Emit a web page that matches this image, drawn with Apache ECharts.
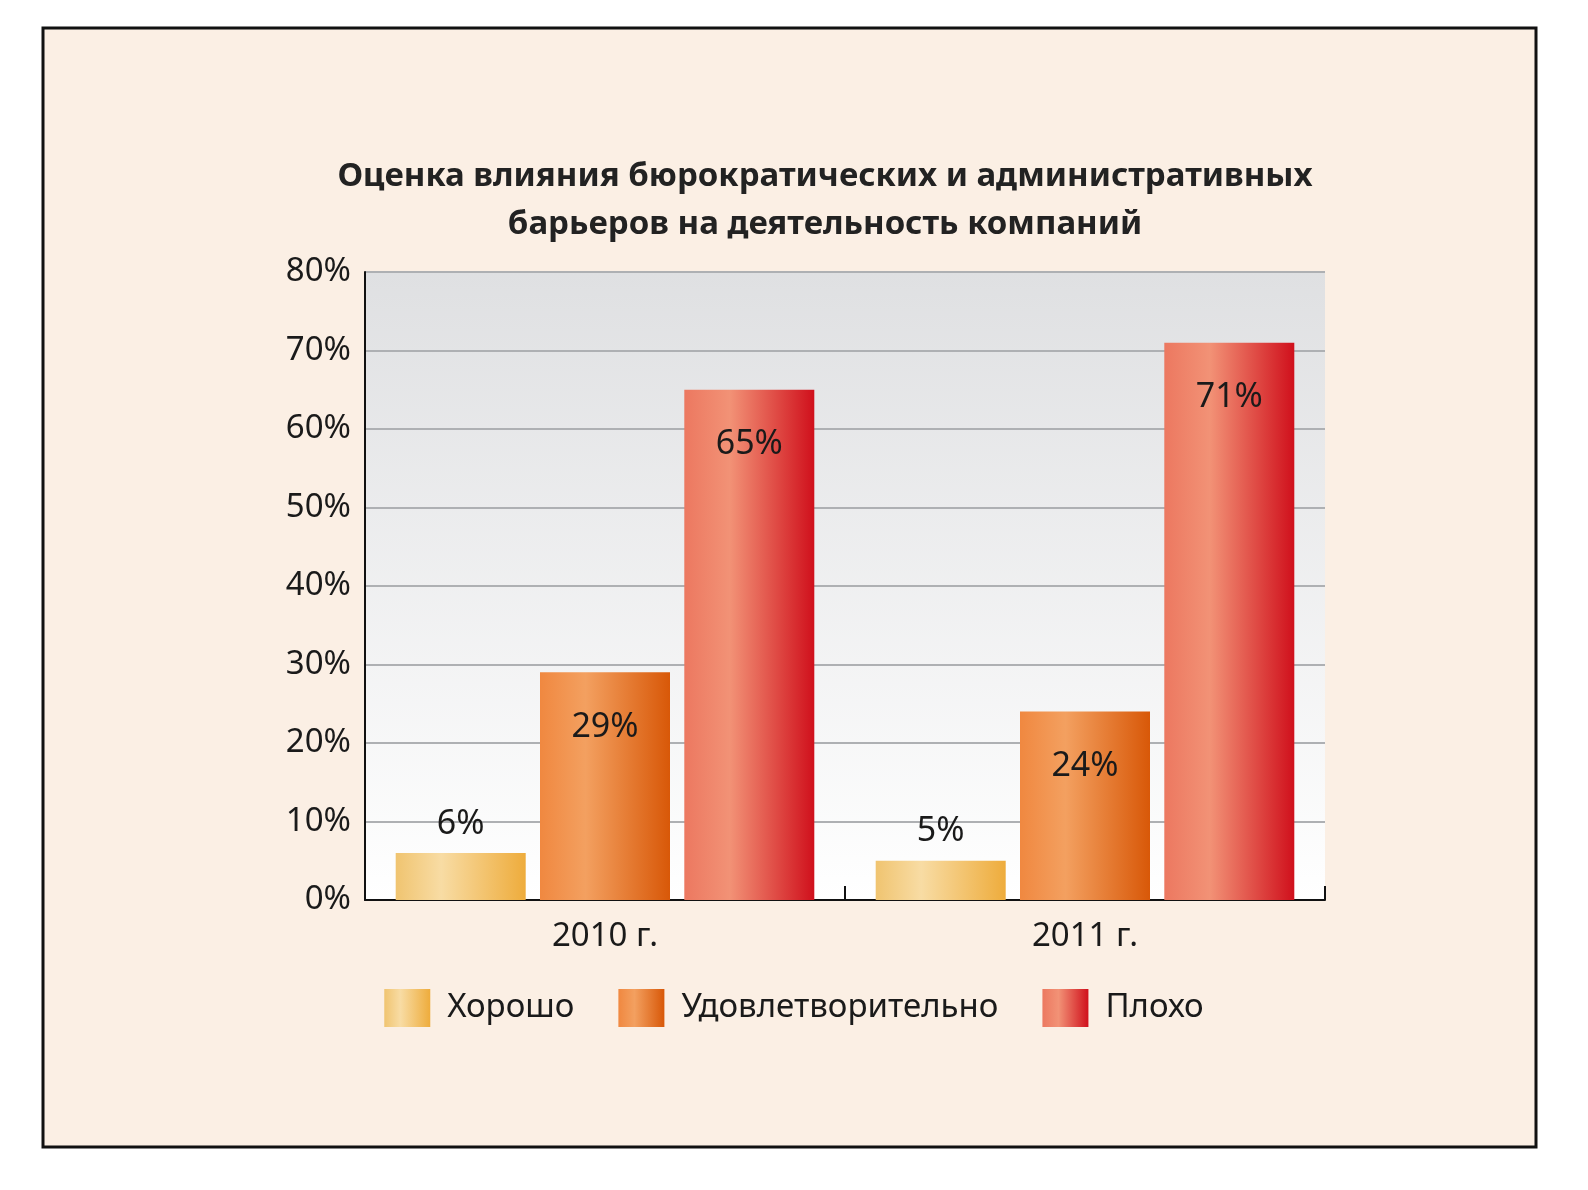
<!DOCTYPE html>
<html>
<head>
<meta charset="utf-8">
<script src="https://cdn.jsdelivr.net/npm/echarts@6/dist/echarts.min.js"></script>
<style>html,body{margin:0;background:#fff}#main{width:1588px;height:1190px}</style>
</head>
<body>
<div id="main"></div>
<script>
var chart = echarts.init(document.getElementById('main'));

var categories = ['2010 г.', '2011 г.'];
var good = [6, 5];
var fair = [29, 24];
var bad = [65, 71];
var yTicks = [0, 10, 20, 30, 40, 50, 60, 70, 80];

function grad(a, b, c) {
    return new echarts.graphic.LinearGradient(0, 0, 1, 0, [
        { offset: 0, color: a }, { offset: 0.35, color: b }, { offset: 1, color: c }
    ]);
}

var font = 'Noto Sans';

function bar(name, data, color, pos) {
    return {
        name: name,
        type: 'bar',
        data: data,
        barWidth: 130,
        barGap: '11%',
        itemStyle: { color: color },
        label: {
            show: true,
            position: pos,
            distance: pos === 'top' ? 12 : 38,
            formatter: '{c}%',
            fontFamily: font,
            fontSize: 34,
            color: '#1a1a1a'
        }
    };
}

option = {
    graphic: [{
        type: 'rect',
        z: -10,
        shape: { x: 43, y: 28, width: 1493, height: 1119 },
        style: { fill: '#fbefe4', stroke: '#111', lineWidth: 3 }
    }],
    title: {
        text: 'Оценка влияния бюрократических и административных\nбарьеров на деятельность компаний',
        left: 820,
        textAlign: 'center',
        top: 148,
        textStyle: { fontFamily: font, fontSize: 33, fontWeight: 'bold', color: '#222', lineHeight: 48 }
    },
    legend: {
        top: 984,
        left: 'center',
        icon: 'rect',
        itemWidth: 46,
        itemHeight: 38,
        itemGap: 44,
        textStyle: { fontFamily: font, fontSize: 33, color: '#1a1a1a', padding: [0, 0, 0, 12] },
        data: ['Хорошо', 'Удовлетворительно', 'Плохо']
    },
    grid: {
        left: 365, right: 263, top: 272, bottom: 290,
        show: true,
        borderWidth: 0,
        backgroundColor: new echarts.graphic.LinearGradient(0, 0, 0, 1, [
            { offset: 0, color: '#dfe0e2' }, { offset: 1, color: '#ffffff' }
        ])
    },
    xAxis: {
        type: 'category',
        data: categories,
        axisLine: { lineStyle: { color: '#111', width: 2 } },
        axisTick: { show: true, inside: true, length: 14, lineStyle: { color: '#111', width: 2 } },
        axisLabel: { fontFamily: font, fontSize: 33, color: '#1a1a1a', margin: 20 }
    },
    yAxis: {
        type: 'value',
        min: yTicks[0],
        max: yTicks[yTicks.length - 1],
        interval: 10,
        axisLine: { show: true, lineStyle: { color: '#111', width: 2 } },
        axisLabel: { formatter: '{value}%', fontFamily: font, fontSize: 33, color: '#1a1a1a', margin: 14 },
        splitLine: { lineStyle: { color: '#aeb0b3', width: 2 } }
    },
    series: [
        bar('Хорошо', good, grad('#f0c470', '#f8dca4', '#eeac3c'), 'top'),
        bar('Удовлетворительно', fair, grad('#f08840', '#f3a060', '#d85808'), 'insideTop'),
        bar('Плохо', bad, grad('#ec7860', '#f29276', '#d0101c'), 'insideTop')
    ]
};

chart.setOption(option);
</script>
</body>
</html>
